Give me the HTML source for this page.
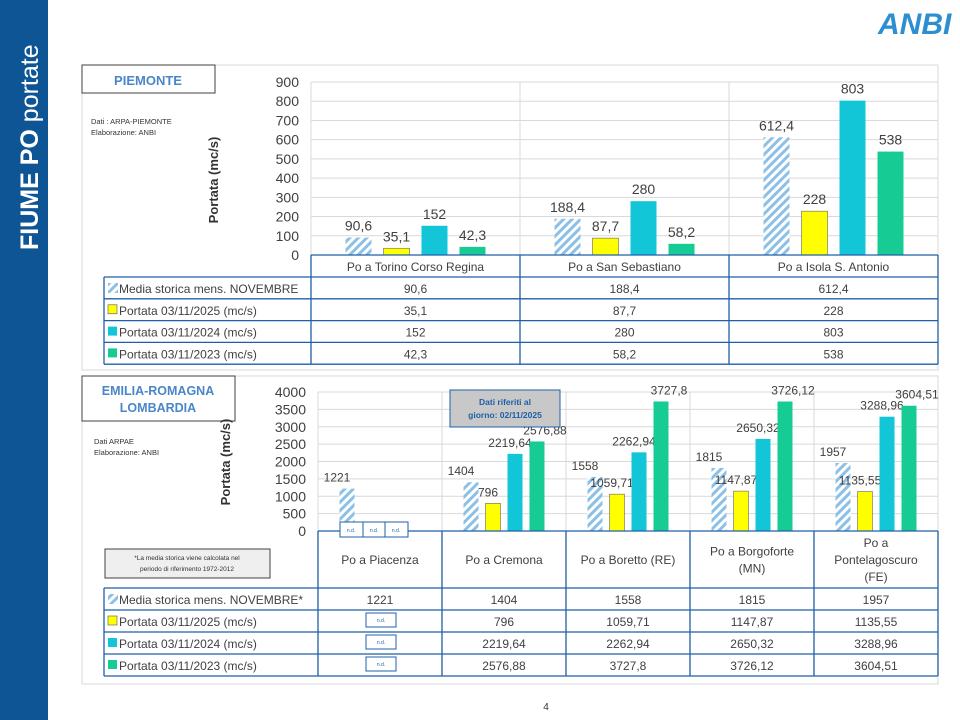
<!DOCTYPE html>
<html><head><meta charset="utf-8"><style>
body{margin:0;width:960px;height:720px;background:#fff;overflow:hidden;font-family:"Liberation Sans",sans-serif}
svg{position:absolute;left:0;top:0}
</style></head><body>
<svg id="s" width="960" height="720" xmlns="http://www.w3.org/2000/svg" font-family="Liberation Sans, sans-serif">
<defs>
<pattern id="h" width="6" height="6" patternUnits="userSpaceOnUse" patternTransform="rotate(45)">
<rect width="6" height="6" fill="#fff"/><rect width="3" height="6" fill="#8cc0e6"/></pattern>
</defs>
<rect x="0" y="0" width="48" height="720" fill="#0e5596"/>
<text transform="translate(38,250) rotate(-90)" fill="#fff" font-size="25"><tspan font-weight="bold">FIUME PO</tspan> portate</text>
<text x="878" y="34" font-size="30" font-weight="bold" fill="#2c8fd0" font-style="italic">ANBI</text>
<rect x="82" y="65" width="856" height="305" fill="none" stroke="#d9d9d9"/>
<rect x="82" y="376" width="856" height="308" fill="none" stroke="#d9d9d9"/>
<rect x="82" y="65" width="133" height="28" fill="#fff" stroke="#404040"/>
<text x="148" y="85" text-anchor="middle" font-size="13" font-weight="bold" fill="#4a86c8">PIEMONTE</text>
<text x="91" y="124" font-size="7.5" fill="#333">Dati : ARPA-PIEMONTE</text>
<text x="91" y="135" font-size="7.5" fill="#333">Elaborazione: ANBI</text>
<text transform="translate(218,180) rotate(-90)" text-anchor="middle" font-size="13" font-weight="bold" fill="#333">Portata (mc/s)</text>
<rect x="82" y="376" width="153" height="45" fill="#fff" stroke="#404040"/>
<text x="158" y="395" text-anchor="middle" font-size="12.5" font-weight="bold" fill="#4a86c8">EMILIA-ROMAGNA</text>
<text x="158" y="412" text-anchor="middle" font-size="12.5" font-weight="bold" fill="#4a86c8">LOMBARDIA</text>
<text x="94" y="444" font-size="7.5" fill="#333">Dati ARPAE</text>
<text x="94" y="455" font-size="7.5" fill="#333">Elaborazione: ANBI</text>
<text transform="translate(230,462) rotate(-90)" text-anchor="middle" font-size="13" font-weight="bold" fill="#333">Portata (mc/s)</text>
<rect x="105" y="549" width="165" height="29" fill="#efefef" stroke="#404040"/>
<text x="187" y="560" text-anchor="middle" font-size="6.5" fill="#333">*La media storica viene calcolata nel</text>
<text x="187" y="571" text-anchor="middle" font-size="6.5" fill="#333">periodo di riferimento 1972-2012</text>
<text x="546" y="710" text-anchor="middle" font-size="10" fill="#333">4</text>
<g id="g"></g>
</svg>
<script>
var ns="http://www.w3.org/2000/svg",g=document.getElementById('g');
function el(t,a,tx){var e=document.createElementNS(ns,t);for(var k in a)e.setAttribute(k,a[k]);if(tx!==undefined)e.textContent=tx;g.appendChild(e);return e;}
var cols=['url(#h)','#ffff00','#12c6d8','#16cc94'];
var names=['Media storica mens. NOVEMBRE','Portata 03/11/2025 (mc/s)','Portata 03/11/2024 (mc/s)','Portata 03/11/2023 (mc/s)'];
function chart(o){
 var L=o.L,R=o.R,T=o.T,B=o.B,n=o.cats.length,cw=(R-L)/n;
 for(var i=0;i<=o.nt;i++){var y=B-(B-T)*i/o.nt;el('line',{x1:L,x2:R,y1:y,y2:y,stroke:'#d9d9d9'});
  el('text',{x:L-12,y:y+5,'text-anchor':'end','font-size':14,fill:'#404040'},String(o.step*i));}
 for(var c=0;c<=n;c++){el('line',{x1:L+c*cw,x2:L+c*cw,y1:T,y2:B,stroke:'#d9d9d9'});}
 o.cats.forEach(function(cat,c){var cx=L+cw*(c+.5);
  cat.v.forEach(function(v,j){if(v===null)return;var x=cx+o.off[j]-o.bw/2,h=v*(B-T)/o.max;
   el('rect',{x:x,y:B-h,width:o.bw,height:h,fill:cols[j],stroke:j==1?'#666':'none','stroke-width':.6});
   el('text',{x:cx+o.off[j]+(o.lx?o.lx[j]:0),y:B-h-7,'text-anchor':'middle','font-size':o.fs,fill:'#404040'},cat.l[j]);});
 });
 var tl=104;
 el('line',{x1:L,x2:R,y1:B,y2:B,stroke:'#1f5fa8','stroke-width':1.3});
 el('line',{x1:tl,x2:R,y1:o.hb,y2:o.hb,stroke:'#1f5fa8','stroke-width':1.3});
 for(var r=0;r<4;r++){var y0=o.hb+r*o.rh;el('line',{x1:tl,x2:R,y1:y0+o.rh,y2:y0+o.rh,stroke:'#1f5fa8','stroke-width':1.3});
  if(r==0)el('rect',{x:tl+4,y:y0+6,width:10,height:10,fill:'url(#h)'});else el('rect',{x:tl+4,y:y0+6,width:9,height:9,fill:cols[r],stroke:r==1?'#555':'none','stroke-width':.6});
  el('text',{x:tl+15,y:y0+16,'font-size':12,fill:'#404040'},names[r]+(o.star&&r==0?'*':''));
  o.cats.forEach(function(cat,c){var cx=L+cw*(c+.5);var t=cat.t[r];
   if(t==='n.d.'){el('rect',{x:cx-14,y:y0+3,width:30,height:14,fill:'#fff',stroke:'#1f5fa8'});el('text',{x:cx+1,y:y0+12,'text-anchor':'middle','font-size':5,fill:'#1f5fa8'},'n.d.');}
   else el('text',{x:cx,y:y0+16,'text-anchor':'middle','font-size':12,fill:'#404040'},t);});}
 for(var c=0;c<=n;c++)el('line',{x1:L+c*cw,x2:L+c*cw,y1:B,y2:o.hb+4*o.rh,stroke:'#1f5fa8','stroke-width':1.3});
 el('line',{x1:tl,x2:tl,y1:o.hb,y2:o.hb+4*o.rh,stroke:'#1f5fa8','stroke-width':1.3});
 o.cats.forEach(function(cat,c){var cx=L+cw*(c+.5);var st=o.ny-(cat.n.length-1)*8.5;cat.n.forEach(function(s,k){el('text',{x:cx,y:st+k*17,'text-anchor':'middle','font-size':12,fill:'#404040'},s);});});
}
chart({L:311,R:938,T:82,B:255,nt:9,step:100,max:900,bw:26,off:[-57,-19,19,57],fs:14,hb:277,rh:21.8,ny:271,
 cats:[
 {v:[90.6,35.1,152,42.3],l:['90,6','35,1','152','42,3'],t:['90,6','35,1','152','42,3'],n:['Po a Torino Corso Regina']},
 {v:[188.4,87.7,280,58.2],l:['188,4','87,7','280','58,2'],t:['188,4','87,7','280','58,2'],n:['Po a San Sebastiano']},
 {v:[612.4,228,803,538],l:['612,4','228','803','538'],t:['612,4','228','803','538'],n:['Po a Isola S. Antonio']}]});
chart({L:318,R:938,T:392,B:531,nt:8,step:500,max:4000,bw:15,off:[-33,-11,11,33],fs:12,hb:588,rh:22,ny:564,star:1,lx:[-10,-5,-5,8],
 cats:[
 {v:[1221,null,null,null],l:['1221','','',''],t:['1221','n.d.','n.d.','n.d.'],n:['Po a Piacenza']},
 {v:[1404,796,2219.64,2576.88],l:['1404','796','2219,64','2576,88'],t:['1404','796','2219,64','2576,88'],n:['Po a Cremona']},
 {v:[1558,1059.71,2262.94,3727.8],l:['1558','1059,71','2262,94','3727,8'],t:['1558','1059,71','2262,94','3727,8'],n:['Po a Boretto (RE)']},
 {v:[1815,1147.87,2650.32,3726.12],l:['1815','1147,87','2650,32','3726,12'],t:['1815','1147,87','2650,32','3726,12'],n:['Po a Borgoforte','(MN)']},
 {v:[1957,1135.55,3288.96,3604.51],l:['1957','1135,55','3288,96','3604,51'],t:['1957','1135,55','3288,96','3604,51'],n:['Po a','Pontelagoscuro','(FE)']}]});
[[351,'n.d.'],[374,'n.d.'],[396,'n.d.']].forEach(function(a){el('rect',{x:a[0]-11,y:522,width:23,height:15,fill:'#fff',stroke:'#1f5fa8'});el('text',{x:a[0],y:532,'text-anchor':'middle','font-size':5,fill:'#1f5fa8'},a[1]);});
el('rect',{x:450,y:390,width:110,height:37,fill:'#c8c8c8',stroke:'#1f5fa8'});
el('text',{x:505,y:405,'text-anchor':'middle','font-size':8.5,'font-weight':'bold',fill:'#1f5fa8'},'Dati riferiti al');
el('text',{x:505,y:418,'text-anchor':'middle','font-size':8.5,'font-weight':'bold',fill:'#1f5fa8'},'giorno: 02/11/2025');
</script>
</body></html>
